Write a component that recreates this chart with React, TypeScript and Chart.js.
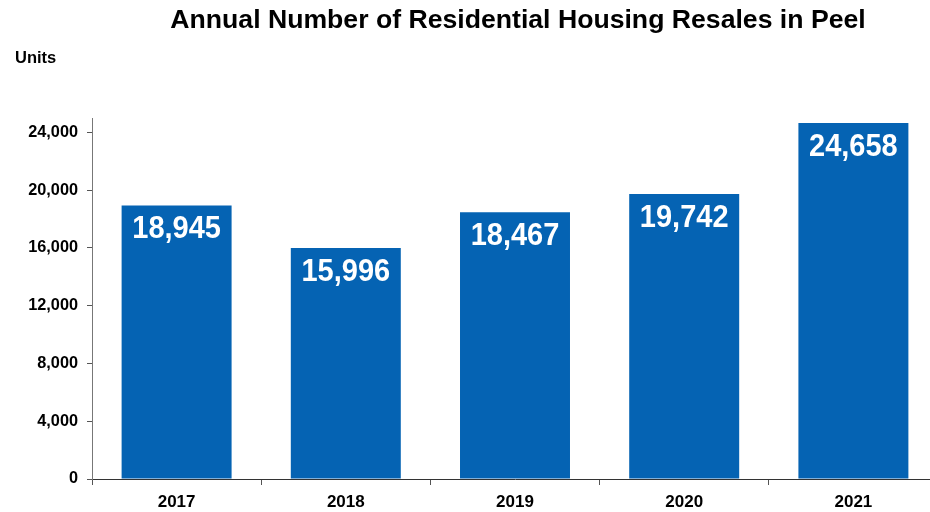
import React, { useEffect, useRef } from "react";
import { Chart, registerables } from "chart.js";

Chart.register(...registerables);

const TITLE = "Annual Number of Residential Housing Resales in Peel";
const UNIT_LABEL = "Units";
const YEARS = ["2017", "2018", "2019", "2020", "2021"];
const RESALES = [18945, 15996, 18467, 19742, 24658];
const Y_TICKS = [0, 4000, 8000, 12000, 16000, 20000, 24000];
const Y_MAX = 25000;

const FONT = '"Liberation Sans", Arial, sans-serif';
const BAR_COLOR = "#0563B3";

export default function App() {
  const ref = useRef<HTMLCanvasElement | null>(null);

  useEffect(() => {
    const canvas = ref.current;
    if (!canvas) return;
    const fmt = (v: number) => v.toLocaleString("en-US");

    const textPlugin = {
      id: "texts",
      afterDraw(chart: any) {
        const ctx = chart.ctx;
        const area = chart.chartArea;
        ctx.save();
        ctx.fillStyle = "#000";
        ctx.textBaseline = "alphabetic";
        // title
        ctx.save();
        ctx.font = `bold 25px ${FONT}`;
        ctx.textAlign = "center";
        ctx.translate((area.left + area.right) / 2 + 3, 28);
        ctx.scale(1.065, 1);
        ctx.fillText(TITLE, 0, 0);
        ctx.restore();
        // unit label
        ctx.save();
        ctx.font = `bold 16px ${FONT}`;
        ctx.textAlign = "left";
        ctx.translate(15, 63);
        ctx.scale(1.03, 1);
        ctx.fillText(UNIT_LABEL, 0, 0);
        ctx.restore();
        // data labels
        const meta = chart.getDatasetMeta(0);
        ctx.fillStyle = "#fff";
        ctx.font = `bold 29px ${FONT}`;
        ctx.textAlign = "center";
        meta.data.forEach((el: any, i: number) => {
          ctx.save();
          ctx.translate(el.x, el.y + 33);
          ctx.scale(1, 1.05);
          ctx.fillText(fmt(RESALES[i]), 0, 0);
          ctx.restore();
        });
        ctx.restore();
      },
    };

    const chart = new Chart(canvas, {
      type: "bar",
      data: {
        labels: YEARS,
        datasets: [
          {
            data: RESALES,
            backgroundColor: BAR_COLOR,
            borderWidth: 0,
            categoryPercentage: 0.65,
            barPercentage: 1,
          },
        ],
      },
      options: {
        responsive: false,
        animation: false,
        layout: { padding: { top: 118, right: 12, left: 0, bottom: 0 } },
        plugins: {
          legend: { display: false },
          title: { display: false },
          tooltip: { enabled: false },
        },
        scales: {
          x: {
            grid: {
              offset: true,
              drawOnChartArea: false,
              drawTicks: true,
              tickLength: 6,
              color: "#555",
            },
            border: { color: "#333", width: 1 },
            ticks: {
              color: "#000",
              font: { family: FONT, size: 17, weight: "bold" },
              padding: 7,
            },
            afterFit(scale: any) {
              scale.height = 33;
            },
          },
          y: {
            min: 0,
            max: Y_MAX,
            grid: {
              drawOnChartArea: false,
              drawTicks: true,
              tickLength: 5,
              color: "#555",
            },
            border: { color: "#777", width: 1 },
            ticks: {
              color: "#000",
              font: { family: FONT, size: 16.3, weight: "bold" },
              padding: 9,
              stepSize: 4000,
              callback: (v: any) => fmt(Number(v)),
            },
            afterBuildTicks(scale: any) {
              scale.ticks = Y_TICKS.map((v) => ({ value: v }));
            },
            afterFit(scale: any) {
              scale.width = 92;
            },
          },
        },
      },
      plugins: [textPlugin],
    } as any);

    return () => chart.destroy();
  }, []);

  return (
    <div
      style={{
        position: "fixed",
        left: 0,
        top: 0,
        width: 930,
        height: 512,
        overflow: "hidden",
        background: "#fff",
      }}
    >
      <canvas ref={ref} width={950} height={512} style={{ display: "block" }} />
    </div>
  );
}
